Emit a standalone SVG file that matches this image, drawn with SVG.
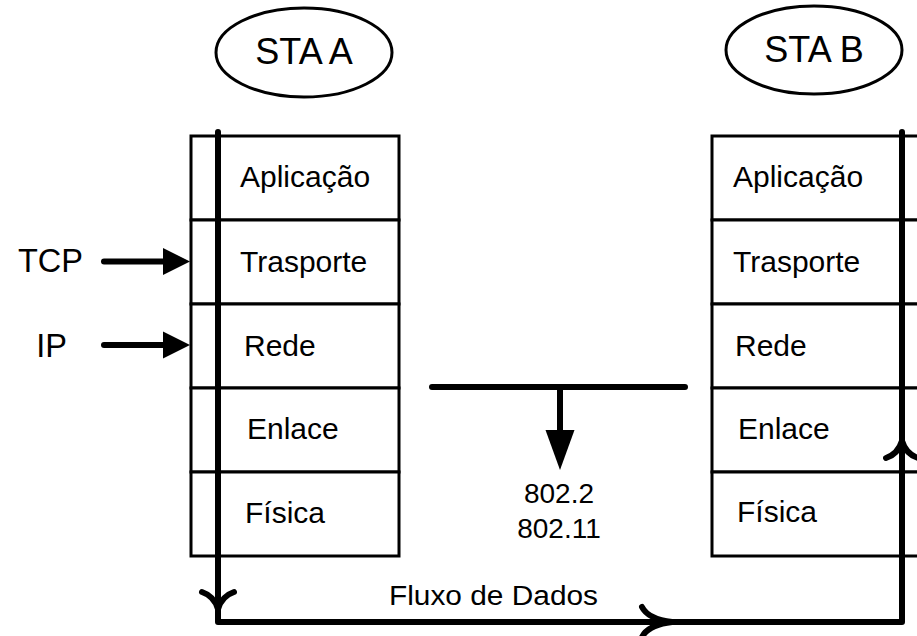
<svg xmlns="http://www.w3.org/2000/svg" width="917" height="636" viewBox="0 0 917 636">
  <style>
    text { font-family: "Liberation Sans", Arial, sans-serif; fill: #000; }
    .cell { fill: #fff; stroke: #000; stroke-width: 3; }
    .lbl { font-size: 30px; }
    .sta { font-size: 36px; text-anchor: middle; }
    .side { font-size: 32.5px; text-anchor: end; }
    .std { font-size: 28px; text-anchor: middle; }
    .ell { fill: #fff; stroke: #000; stroke-width: 3; }
    .flow { fill: none; stroke: #000; stroke-width: 6; stroke-linejoin: round; stroke-linecap: round; }
    .thick { stroke: #000; stroke-width: 6; stroke-linecap: round; fill: none; }
  </style>

  <!-- station A -->
  <g id="sta-a">
    <ellipse class="ell" cx="304" cy="52.5" rx="88" ry="44.5"/>
    <text class="sta" x="304" y="64">STA A</text>
  </g>
  <g id="stack-a">
    <rect class="cell" x="191" y="136" width="208" height="84"/>
    <rect class="cell" x="191" y="220" width="208" height="84"/>
    <rect class="cell" x="191" y="304" width="208" height="84"/>
    <rect class="cell" x="191" y="388" width="208" height="84"/>
    <rect class="cell" x="191" y="472" width="208" height="84"/>
    <text class="lbl" x="240" y="187">Aplicação</text>
    <text class="lbl" x="240" y="272">Trasporte</text>
    <text class="lbl" x="244" y="356">Rede</text>
    <text class="lbl" x="247" y="439">Enlace</text>
    <text class="lbl" x="245" y="523">Física</text>
  </g>

  <!-- station B -->
  <g id="sta-b">
    <ellipse class="ell" cx="814" cy="50" rx="88" ry="44"/>
    <text class="sta" x="814" y="62">STA B</text>
  </g>
  <g id="stack-b">
    <rect class="cell" x="712" y="136" width="215" height="84"/>
    <rect class="cell" x="712" y="220" width="215" height="84"/>
    <rect class="cell" x="712" y="304" width="215" height="84"/>
    <rect class="cell" x="712" y="388" width="215" height="84"/>
    <rect class="cell" x="712" y="472" width="215" height="84"/>
    <text class="lbl" x="733" y="187">Aplicação</text>
    <text class="lbl" x="733" y="272">Trasporte</text>
    <text class="lbl" x="735" y="356">Rede</text>
    <text class="lbl" x="738" y="439">Enlace</text>
    <text class="lbl" x="737" y="522">Física</text>
  </g>

  <!-- protocol labels -->
  <g id="tcp">
    <text class="side" x="83" y="272">TCP</text>
  </g>
  <g id="ip">
    <text class="side" x="67" y="356.5">IP</text>
  </g>

  <!-- 802 standards -->
  <g id="ieee">
    <text class="std" x="559" y="503">802.2</text>
    <text class="std" x="559" y="538">802.11</text>
  </g>

  <g id="flow-label">
    <text x="389" y="605" font-size="27" textLength="209" lengthAdjust="spacingAndGlyphs">Fluxo de Dados</text>
  </g>

  <g id="connectors">
    <!-- data path: down stack A, across, up stack B -->
    <path class="flow" d="M218 132 L218 622 L902 622 L902 132" stroke-linecap="butt"/>
    <!-- open chevrons along the path -->
    <path class="flow" d="M202 592 Q214 596 218 609 Q222 596 234 592"/>
    <path class="flow" d="M642 607 Q648 619 672 622 Q648 625 642 637"/>
    <path class="flow" d="M886 458 Q898 454 902 441 Q906 454 918 458"/>

    <!-- TCP / IP arrows -->
    <line class="thick" x1="104" y1="261.5" x2="165" y2="261.5"/>
    <polygon points="163,248 190,261.5 163,275" fill="#000"/>
    <line class="thick" x1="104" y1="345" x2="165" y2="345"/>
    <polygon points="163,331.5 190,345 163,358.5" fill="#000"/>

    <!-- shared medium and drop arrow -->
    <line class="thick" x1="432" y1="387" x2="685" y2="387"/>
    <line x1="560" y1="387" x2="560" y2="432" stroke="#000" stroke-width="6"/>
    <polygon points="545.5,430 574.5,430 560,470" fill="#000"/>
  </g>
</svg>
